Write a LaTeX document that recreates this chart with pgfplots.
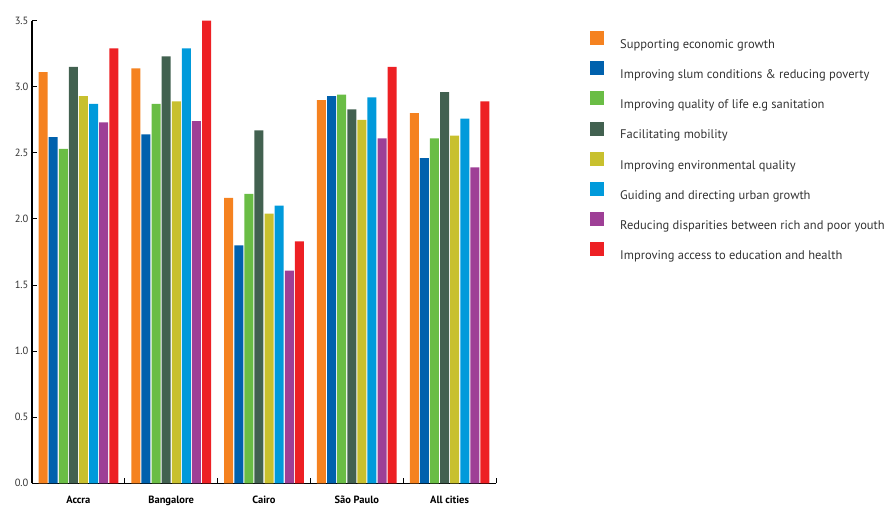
\documentclass[border=0pt]{standalone}
\usepackage{pgfplots}
\pgfplotsset{compat=1.18}
\usepackage{fontspec}
\setmainfont{PT Sans}
\definecolor{c1}{HTML}{F58220}
\definecolor{c2}{HTML}{0061AD}
\definecolor{c3}{HTML}{6ABD45}
\definecolor{c4}{HTML}{426150}
\definecolor{c5}{HTML}{C8C02E}
\definecolor{c6}{HTML}{009ADB}
\definecolor{c7}{HTML}{9E3F96}
\definecolor{c8}{HTML}{ED2024}
\definecolor{txt}{HTML}{333333}
\begin{document}
\begin{tikzpicture}
\begin{axis}[
  at={(0,0)}, anchor=south west,
  scale only axis, width=464pt, height=462.6pt,
  xmin=-0.5, xmax=4.5, ymin=0, ymax=3.5,
  axis x line*=bottom, axis y line*=left,
  axis line style={line width=1.3pt, black},
  ybar=1.1pt, bar width=9pt,
  tick align=inside,
  major tick length=5pt,
  tick style={line width=1pt, black},
  xtick={-0.5,0.5,...,4.5}, xticklabels={},
  extra x ticks={0,1,2,3,4},
  extra x tick labels={Accra,Bangalore,Cairo,São Paulo,All cities},
  extra x tick style={major tick length=0pt, xticklabel style={font=\fontsize{10.5}{12}\selectfont\bfseries, text=black, yshift=-9.5pt}},
  ytick={0,0.5,...,3.5},
  /pgf/number format/assume math mode=true,
  yticklabel style={/pgf/number format/fixed, /pgf/number format/fixed zerofill, /pgf/number format/precision=1, font=\fontsize{10.5}{12}\selectfont, text=txt},
  legend cell align=left,
  legend style={draw=none, fill=none, at={(1.2026,0.978)}, anchor=north west,
    inner sep=0pt, row sep=11.5pt, font=\fontsize{12.5}{14}\selectfont, text=txt,
    nodes={inner sep=0pt},
    /tikz/every odd column/.append style={column sep=16pt}},
  every axis plot post/.append style={legend image code/.code={\fill[##1] (0pt,-0.5pt) rectangle (14pt,13.5pt);}},
]
\addplot[fill=c1, draw=none] coordinates {(0,3.11) (1,3.14) (2,2.16) (3,2.90) (4,2.80)};
\addplot[fill=c2, draw=none] coordinates {(0,2.62) (1,2.64) (2,1.80) (3,2.93) (4,2.46)};
\addplot[fill=c3, draw=none] coordinates {(0,2.53) (1,2.87) (2,2.19) (3,2.94) (4,2.61)};
\addplot[fill=c4, draw=none] coordinates {(0,3.15) (1,3.23) (2,2.67) (3,2.83) (4,2.96)};
\addplot[fill=c5, draw=none] coordinates {(0,2.93) (1,2.89) (2,2.04) (3,2.75) (4,2.63)};
\addplot[fill=c6, draw=none] coordinates {(0,2.87) (1,3.29) (2,2.10) (3,2.92) (4,2.76)};
\addplot[fill=c7, draw=none] coordinates {(0,2.73) (1,2.74) (2,1.61) (3,2.61) (4,2.39)};
\addplot[fill=c8, draw=none] coordinates {(0,3.29) (1,3.50) (2,1.83) (3,3.15) (4,2.89)};
\legend{Supporting economic growth, Improving slum conditions \& reducing poverty, Improving quality of life e.g sanitation, Facilitating mobility, Improving environmental quality, Guiding and directing urban growth, Reducing disparities between rich and poor youth, Improving access to education and health}
\end{axis}
\pgfresetboundingbox
\path (-32pt,-22.7pt) rectangle (861pt,483.3pt);
\end{tikzpicture}
\end{document}
